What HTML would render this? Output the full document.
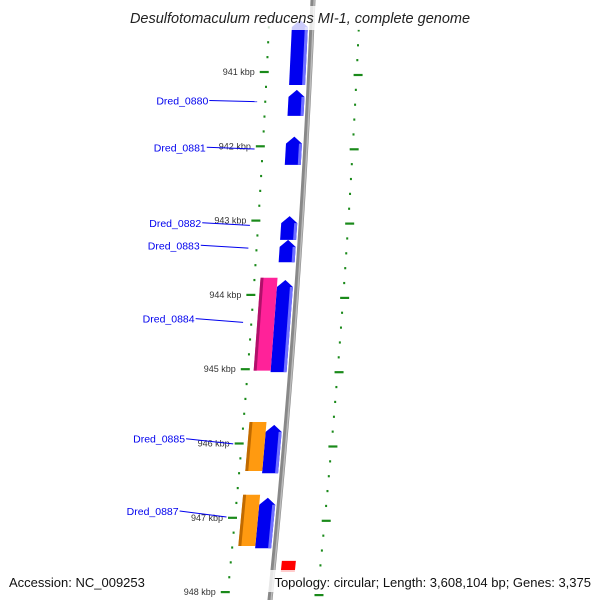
<!DOCTYPE html>
<html><head><meta charset="utf-8"><style>
html,body{margin:0;padding:0;background:#fff;}
svg{display:block;font-family:"Liberation Sans","DejaVu Sans",sans-serif;}
</style></head><body>
<svg id="map" width="600" height="600" viewBox="0 0 600 600">
<g id="ticks"></g>
<path id="backbone" fill="none" stroke="#888" stroke-width="5"></path>
<path id="backbone-hl" fill="none" stroke="#bbb" stroke-width="1.5"></path>
<g id="features"></g>
<g id="labels"></g>
<rect x="112" y="6" width="376" height="24" fill="#fff" fill-opacity="0.8"/>
<text x="300" y="23" text-anchor="middle" font-size="14.5" font-style="italic" fill="#222">Desulfotomaculum reducens MI-1, complete genome</text>
<rect x="4" y="570" width="142" height="22" fill="#fff" fill-opacity="0.8"/>
<text x="9" y="587" font-size="13" fill="#111">Accession: NC_009253</text>
<rect x="258" y="570" width="338" height="22" fill="#fff" fill-opacity="0.8"/>
<text x="591" y="587" text-anchor="end" font-size="13" fill="#111">Topology: circular; Length: 3,608,104 bp; Genes: 3,375</text>
</svg>
<script>
// data
const tickKbp = [941, 942, 943, 944, 945, 946, 947, 948];
const tickLabels = ["941 kbp","942 kbp","943 kbp","944 kbp","945 kbp","946 kbp","947 kbp","948 kbp"];
const geneNames = ["", "Dred_0880", "Dred_0881", "Dred_0882", "Dred_0883", "Dred_0884", "Dred_0885", "Dred_0887"];
const geneStarts = [940.3, 941.24, 941.87, 942.94, 943.26, 943.80, 945.75, 946.73];
const geneEnds   = [941.175, 941.59, 942.25, 943.26, 943.56, 945.04, 946.40, 947.41];
const rnaKinds  = ["pink", "orange", "orange"];
const rnaStarts = [943.77, 945.71, 946.69];
const rnaEnds   = [945.02, 946.37, 947.38];
const otherStarts = [947.58];
const otherEnds   = [947.73];

const NS = "http://www.w3.org/2000/svg";
function yScale(k){ return 72 + (k - 941) * 74.3; }
function cx(y){ return 313 - 0.0417*y - 0.00005*y*y; }
function mk(tag, attrs, parent){
  const e = document.createElementNS(NS, tag);
  for (const k in attrs) e.setAttribute(k, attrs[k]);
  parent.appendChild(e); return e;
}
function quad(y1,y2,o1,o2){
  return `${cx(y1)+o1},${y1} ${cx(y1)+o2},${y1} ${cx(y2)+o2},${y2} ${cx(y2)+o1},${y2}`;
}
function arrow(y1,y2,o1,o2){
  const m=(o1+o2)/2, h=Math.min(7,(y2-y1)/2);
  return `${cx(y1)+m},${y1} ${cx(y1+h)+o2},${y1+h} ${cx(y2)+o2},${y2} ${cx(y2)+o1},${y2} ${cx(y1+h)+o1},${y1+h}`;
}

// backbone
let d = "";
for (let y=-5; y<=605; y+=5) d += (y===-5?"M":"L") + cx(y).toFixed(2) + "," + y + " ";
document.getElementById("backbone").setAttribute("d", d);
let d2 = "";
for (let y=-5; y<=605; y+=5) d2 += (y===-5?"M":"L") + (cx(y)+1.2).toFixed(2) + "," + y + " ";
document.getElementById("backbone-hl").setAttribute("d", d2);

// ticks
const tg = document.getElementById("ticks");
for (let k = 940.4; k <= 948.2; k += 0.2) {
  const kr = Math.round(k*10)/10;
  const major = Math.abs(kr - Math.round(kr)) < 0.01;
  const y = yScale(kr);
  const ln = mk("line", {x1: cx(y)-(major?50:44), x2: cx(y)-(major?41:42), y1: y, y2: y, stroke: "#1a8a1a", "stroke-width": 2.2}, tg);
  
  
  const y2 = y + 3;
  const ln2 = mk("line", {x1: cx(y2)+(major?44:46), x2: cx(y2)+(major?53:48), y1: y2, y2: y2, stroke: "#1a8a1a", "stroke-width": 2.2}, tg);
  
  
}
tickKbp.forEach((k, i) => {
  const y = yScale(k);
  const t = mk("text", {x: cx(y)-55, y: y+3, "text-anchor": "end", "font-size": 9, fill: "#333"}, tg);
  t.textContent = tickLabels[i];
  
  
});

// features
const fg = document.getElementById("features");
const lg = document.getElementById("labels");
geneStarts.forEach((s, i) => {
  const y1 = yScale(s), y2 = yScale(geneEnds[i]);
  const p = mk("polygon", {points: arrow(y1, y2, -20, -4), fill: "#0000f0"}, fg);
  
  
  const hl = mk("polygon", {points: quad(y1+7, y2, -7, -4), fill: "#6f6fff"}, fg);
  
  
  if (geneNames[i]) {
    const ym = (y1 + y2) / 2;
    const ly = ym * 0.977;
    const tx = cx(ly) - 100;
    const line = mk("line", {x1: tx + 1, y1: ly, x2: cx(ym) - 51, y2: (ly + ym) / 2, stroke: "#0000ee", "stroke-width": 1}, lg);
    
    
    const t = mk("text", {x: tx, y: ly + 4, "text-anchor": "end", "font-size": 10.5, fill: "#0000ee"}, lg);
    t.textContent = geneNames[i];
    
    
  }
});
rnaStarts.forEach((s, i) => {
  const y1 = yScale(s), y2 = yScale(rnaEnds[i]);
  const main = rnaKinds[i] === "pink" ? "#ff2299" : "#ff9a10";
  const dark = rnaKinds[i] === "pink" ? "#b0106a" : "#c06a00";
  const p = mk("polygon", {points: quad(y1, y2, -37, -20), fill: main}, fg);
  
  
  const sh = mk("polygon", {points: quad(y1, y2, -37, -34), fill: dark}, fg);
  
  
});
otherStarts.forEach((s, i) => {
  const y1 = yScale(s), y2 = yScale(otherEnds[i]);
  const p = mk("polygon", {points: quad(y1, y2, 8, 22), fill: "#ff0000"}, fg);
  
  
});
</script>
</body></html>
